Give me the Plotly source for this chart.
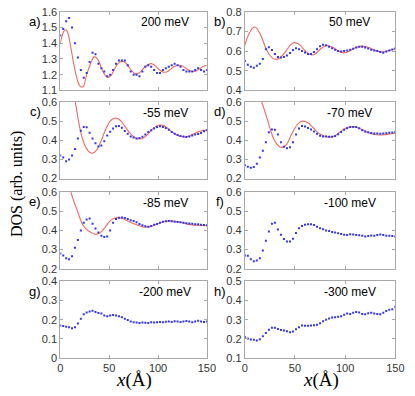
import plotly.graph_objects as go

W, H = 415, 396

# measured positions (angstrom) of the STM line-cut points
x_exp = [0, 3, 6, 9, 12, 15, 18, 21, 24, 27, 30, 33, 36, 39, 42, 45, 48, 51, 54, 57,
         60, 63, 66, 69, 72, 75, 78, 81, 84, 87, 90, 93, 96, 99, 102, 105, 108, 111, 114, 117,
         120, 123, 126, 129, 132, 135, 138, 141, 144, 147, 150]

dos_a = [1.45, 1.49, 1.54, 1.56, 1.50, 1.40, 1.31, 1.23, 1.18, 1.21,
         1.28, 1.34, 1.33, 1.27, 1.24, 1.22, 1.19, 1.20, 1.23, 1.27,
         1.29, 1.29, 1.29, 1.26, 1.22, 1.20, 1.20, 1.19, 1.22, 1.25,
         1.26, 1.25, 1.23, 1.21, 1.21, 1.23, 1.24, 1.25, 1.26, 1.27,
         1.26, 1.25, 1.23, 1.22, 1.22, 1.22, 1.23, 1.24, 1.23, 1.22, 1.23]
dos_b = [0.55, 0.53, 0.52, 0.515, 0.525, 0.535, 0.56, 0.61, 0.62, 0.605,
         0.585, 0.57, 0.567, 0.57, 0.578, 0.59, 0.605, 0.615, 0.61, 0.60,
         0.593, 0.585, 0.585, 0.595, 0.61, 0.625, 0.632, 0.63, 0.622, 0.615,
         0.607, 0.60, 0.598, 0.60, 0.603, 0.607, 0.612, 0.618, 0.622, 0.622,
         0.618, 0.613, 0.607, 0.603, 0.60, 0.595, 0.592, 0.598, 0.603, 0.608, 0.613]
dos_c = [0.32, 0.31, 0.29, 0.30, 0.32, 0.355, 0.41, 0.45, 0.47, 0.468,
         0.44, 0.41, 0.385, 0.368, 0.373, 0.395, 0.425, 0.445, 0.462, 0.473,
         0.475, 0.465, 0.448, 0.434, 0.42, 0.415, 0.41, 0.412, 0.418, 0.43,
         0.443, 0.453, 0.462, 0.47, 0.473, 0.47, 0.464, 0.455, 0.444, 0.434,
         0.428, 0.423, 0.42, 0.417, 0.42, 0.425, 0.43, 0.433, 0.438, 0.447, 0.452]
dos_d = [0.27, 0.262, 0.257, 0.26, 0.278, 0.31, 0.345, 0.39, 0.442, 0.456,
         0.455, 0.43, 0.39, 0.366, 0.358, 0.364, 0.39, 0.43, 0.462, 0.475,
         0.472, 0.464, 0.456, 0.446, 0.434, 0.424, 0.42, 0.42, 0.418, 0.419,
         0.423, 0.432, 0.444, 0.455, 0.463, 0.469, 0.47, 0.469, 0.463, 0.453,
         0.446, 0.442, 0.438, 0.436, 0.435, 0.434, 0.436, 0.437, 0.439, 0.441, 0.443]
dos_e = [0.28, 0.27, 0.255, 0.25, 0.265, 0.31, 0.35, 0.40, 0.44, 0.458,
         0.462, 0.435, 0.41, 0.39, 0.372, 0.366, 0.368, 0.40, 0.44, 0.46,
         0.466, 0.468, 0.465, 0.46, 0.454, 0.45, 0.443, 0.434, 0.427, 0.422,
         0.42, 0.424, 0.43, 0.434, 0.44, 0.445, 0.448, 0.45, 0.448, 0.445,
         0.444, 0.443, 0.44, 0.438, 0.436, 0.435, 0.433, 0.432, 0.43, 0.428, 0.427]
dos_f = [0.27, 0.268, 0.25, 0.24, 0.243, 0.255, 0.295, 0.347, 0.395, 0.435,
         0.44, 0.405, 0.378, 0.355, 0.343, 0.343, 0.357, 0.387, 0.412, 0.424,
         0.43, 0.433, 0.433, 0.428, 0.42, 0.412, 0.407, 0.40, 0.397, 0.392,
         0.389, 0.385, 0.381, 0.378, 0.377, 0.38, 0.379, 0.377, 0.375, 0.372,
         0.368, 0.371, 0.374, 0.372, 0.376, 0.379, 0.376, 0.373, 0.372, 0.371, 0.368]
dos_g = [0.17, 0.167, 0.163, 0.16, 0.155, 0.16, 0.18, 0.205, 0.228, 0.238,
         0.243, 0.247, 0.24, 0.235, 0.232, 0.222, 0.218, 0.222, 0.225, 0.222,
         0.218, 0.213, 0.205, 0.198, 0.19, 0.186, 0.185, 0.183, 0.185, 0.184,
         0.183, 0.186, 0.185, 0.187, 0.188, 0.187, 0.189, 0.19, 0.188, 0.192,
         0.19, 0.188, 0.19, 0.193, 0.19, 0.187, 0.19, 0.195, 0.19, 0.188, 0.19]
dos_h = [0.21, 0.202, 0.197, 0.195, 0.192, 0.198, 0.213, 0.23, 0.247, 0.258,
         0.258, 0.252, 0.246, 0.243, 0.24, 0.234, 0.238, 0.25, 0.26, 0.27,
         0.268, 0.268, 0.27, 0.271, 0.274, 0.282, 0.292, 0.30, 0.306, 0.311,
         0.313, 0.315, 0.318, 0.326, 0.332, 0.33, 0.336, 0.34, 0.338, 0.33,
         0.328, 0.334, 0.336, 0.332, 0.33, 0.328, 0.336, 0.345, 0.352, 0.355, 0.368]

# theory curves (red)
fit_a_x = [0, 2, 4, 6, 8, 10, 12, 14, 16, 18, 20, 22, 24, 27, 30, 33, 35, 38, 41, 44, 47, 49,
           52, 55, 58, 61, 64, 67, 70, 73, 76, 78, 81, 84, 87, 90, 93, 96, 99, 102, 105, 107,
           110, 113, 116, 119, 122, 125, 128, 131, 134, 136, 139, 142, 145, 148, 150]
fit_a = [1.40, 1.45, 1.48, 1.485, 1.46, 1.40, 1.33, 1.26, 1.20, 1.155, 1.128, 1.12, 1.13,
         1.20, 1.255, 1.30, 1.315, 1.30, 1.26, 1.215, 1.188, 1.183,
         1.195, 1.23, 1.262, 1.28, 1.285, 1.274, 1.25, 1.225, 1.208, 1.205,
         1.212, 1.232, 1.252, 1.265, 1.27, 1.262, 1.245, 1.228, 1.217, 1.215,
         1.22, 1.235, 1.25, 1.258, 1.26, 1.255, 1.243, 1.23, 1.222, 1.22,
         1.224, 1.235, 1.248, 1.257, 1.26]

fit_b_x = [0, 3, 6, 8, 10, 12, 15, 18, 21, 24, 28, 31, 34, 37, 41, 44, 47, 49, 52, 55,
           58, 61, 64, 67, 70, 73, 76, 79, 82, 85, 88, 91, 94, 97, 100, 103, 106, 109, 112, 115,
           118, 121, 124, 127, 130, 133, 136, 139, 142, 145, 148, 150]
fit_b = [0.63, 0.675, 0.705, 0.718, 0.723, 0.715, 0.69, 0.655, 0.615, 0.585,
         0.563, 0.558, 0.562, 0.575, 0.60, 0.622, 0.638, 0.643, 0.64, 0.63,
         0.613, 0.597, 0.585, 0.58, 0.585, 0.598, 0.613, 0.624, 0.628, 0.625,
         0.618, 0.608, 0.598, 0.592, 0.592, 0.597, 0.605, 0.614, 0.62, 0.624,
         0.625, 0.622, 0.617, 0.61, 0.603, 0.598, 0.596, 0.597, 0.6, 0.605, 0.609, 0.612]

fit_c_x = [0, 5, 10, 13, 16, 19, 22, 25, 28, 31, 33, 36, 39, 42, 45, 48, 51, 54, 57, 60,
           63, 66, 69, 72, 75, 78, 81, 84, 87, 90, 93, 96, 99, 102, 105, 108, 111, 114, 117, 120,
           123, 126, 129, 132, 135, 138, 141, 144, 147, 150]
fit_c = [1.3, 1.0, 0.78, 0.67, 0.58, 0.49, 0.42, 0.375, 0.347, 0.335,
         0.333, 0.342, 0.365, 0.40, 0.44, 0.475, 0.50, 0.513, 0.516, 0.51,
         0.495, 0.474, 0.452, 0.433, 0.419, 0.41, 0.407, 0.41, 0.42, 0.435,
         0.452, 0.466, 0.476, 0.48, 0.478, 0.47, 0.458, 0.445, 0.433, 0.425,
         0.42, 0.418, 0.419, 0.423, 0.43, 0.437, 0.444, 0.449, 0.452, 0.454]

fit_d_x = [0, 5, 10, 14, 17, 20, 23, 26, 29, 32, 35, 37, 40, 43, 46, 49, 52, 55, 58, 61,
           64, 67, 70, 73, 76, 79, 82, 85, 88, 91, 94, 97, 100, 103, 106, 109, 112, 115, 118, 121,
           124, 127, 130, 133, 136, 139, 142, 146, 150]
fit_d = [1.4, 1.05, 0.82, 0.68, 0.60, 0.55, 0.50, 0.447, 0.405, 0.38,
         0.365, 0.363, 0.37, 0.39, 0.425, 0.455, 0.48, 0.495, 0.50, 0.497,
         0.488, 0.472, 0.455, 0.44, 0.43, 0.423, 0.418, 0.417, 0.42, 0.428,
         0.44, 0.452, 0.462, 0.468, 0.471, 0.471, 0.467, 0.46, 0.452, 0.445,
         0.438, 0.433, 0.43, 0.428, 0.428, 0.429, 0.431, 0.434, 0.437]

fit_e_x = [0, 4, 8, 11, 14, 17, 20, 23, 26, 29, 32, 35, 38, 41, 44, 47, 50, 53, 56, 59,
           62, 65, 68, 71, 74, 77, 80, 83, 86, 89, 92, 95, 98, 101, 104, 107, 110, 113, 116, 119,
           122, 125, 128, 131, 134, 137, 140, 145, 150]
fit_e = [1.2, 0.90, 0.70, 0.60, 0.55, 0.51, 0.465, 0.43, 0.41, 0.397,
         0.388, 0.381, 0.381, 0.39, 0.405, 0.425, 0.445, 0.458, 0.465, 0.467,
         0.465, 0.46, 0.452, 0.445, 0.438, 0.432, 0.426, 0.421, 0.418, 0.418,
         0.42, 0.425, 0.432, 0.438, 0.443, 0.447, 0.449, 0.45, 0.449, 0.447,
         0.444, 0.44, 0.436, 0.432, 0.43, 0.428, 0.427, 0.426, 0.425]

panel_labels = ['a)', 'b)', 'c)', 'd)', 'e)', 'f)', 'g)', 'h)']
energies = ['200 meV', '50 meV', '-55 meV', '-70 meV', '-85 meV', '-100 meV', '-200 meV', '-300 meV']
dos_all = [dos_a, dos_b, dos_c, dos_d, dos_e, dos_f, dos_g, dos_h]
fits = [(fit_a_x, fit_a), (fit_b_x, fit_b), (fit_c_x, fit_c), (fit_d_x, fit_d),
        (fit_e_x, fit_e), None, None, None]
y_ranges = [[1.1, 1.6], [0.4, 0.8], [0.2, 0.6], [0.2, 0.6],
            [0.2, 0.6], [0.2, 0.6], [0, 0.4], [0.1, 0.5]]

#pixel boxes of the panels
col_px = [(59, 210), (249, 404)]
row_px = [(6, 87), (99, 178), (192, 271), (284, 363)]


def px_x(p):
    return p / W


def px_y(p):
    return 1 - p / H


axis_style = dict(showline=True, linecolor='#a8a8a8', linewidth=1, mirror='ticks',
                  ticks='inside', ticklen=3, tickcolor='#a8a8a8', showgrid=False,
                  zeroline=False,
                  tickfont=dict(family='Liberation Sans', size=11, color='#333333'))

fig = go.Figure()
layout = {}
annotations = []

for i in range(8):
    row, col = i // 2, i % 2
    n = '' if i == 0 else str(i + 1)
    x0, x1 = col_px[col]
    top, bottom = row_px[row]

    layout['xaxis' + n] = dict(axis_style, domain=[px_x(x0), px_x(x1)], anchor='y' + n,
                               range=[0, 150], tickmode='linear', tick0=0, dtick=50,
                               showticklabels=(row == 3))
    layout['yaxis' + n] = dict(axis_style, domain=[px_y(bottom), px_y(top)], anchor='x' + n,
                               range=y_ranges[i], tickmode='linear', tick0=0, dtick=0.1)

    if fits[i] is not None:
        fig.add_trace(go.Scatter(
            x=fits[i][0], y=fits[i][1], mode='lines',
            line=dict(color='#f06a60', width=1.1, shape='spline'),
            xaxis='x' + n, yaxis='y' + n, showlegend=False
        ))
    fig.add_trace(go.Scatter(
        x=x_exp, y=dos_all[i], mode='markers',
        marker=dict(symbol='square', size=2, color='#3535f0', line=dict(width=0)),
        xaxis='x' + n, yaxis='y' + n, showlegend=False
    ))

    annotations.append(dict(text=panel_labels[i], x=px_x(x0 - 26), y=px_y(top + 10),
                            xref='paper', yref='paper', showarrow=False,
                            xanchor='center', yanchor='middle',
                            font=dict(family='Liberation Sans', size=13, color='black')))
    annotations.append(dict(text=energies[i], x=px_x(x0 + 108), y=px_y(top + 11),
                            xref='paper', yref='paper', showarrow=False,
                            xanchor='center', yanchor='middle',
                            font=dict(family='Liberation Sans', size=12, color='black')))

#axis titles
annotations.append(dict(text='DOS (arb. units)', x=px_x(15), y=px_y(184),
                        xref='paper', yref='paper', showarrow=False, textangle=-90,
                        xanchor='center', yanchor='middle',
                        font=dict(family='Liberation Serif', size=16, color='black')))
for cx in (135, 327):
    annotations.append(dict(text='<i>x</i>(Å)', x=px_x(cx), y=px_y(386),
                            xref='paper', yref='paper', showarrow=False,
                            xanchor='center', yanchor='middle',
                            font=dict(family='Liberation Serif', size=19, color='black')))

fig.update_layout(
    width=W, height=H,
    margin=dict(l=0, r=0, t=0, b=0),
    paper_bgcolor='white', plot_bgcolor='white',
    annotations=annotations,
    **layout
)

#browser default body margin would push the figure off the window
fig.write_html("out.html", config={'displayModeBar': False},
               post_script="document.body.style.margin='0';")
